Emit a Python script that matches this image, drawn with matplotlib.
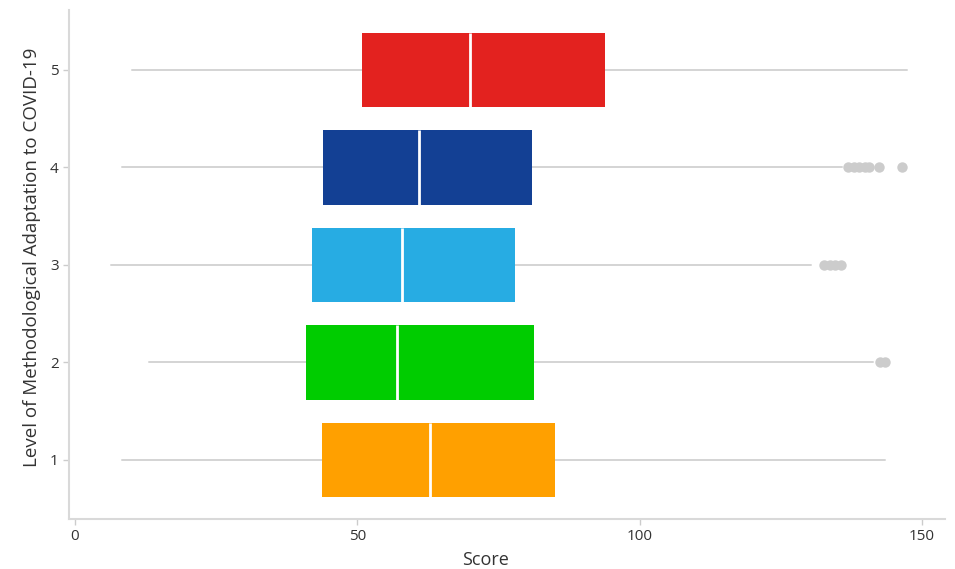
import matplotlib
matplotlib.use("Agg")
import matplotlib.pyplot as plt

categories = ["1", "2", "3", "4", "5"]
colors = ["#ffa000", "#00cc00", "#27ace3", "#134094", "#e3221f"]
q1 = [43.7, 40.9, 42.0, 43.9, 50.8]
med = [62.9, 57.0, 57.9, 60.9, 70.0]
q3 = [85.0, 81.3, 77.9, 80.9, 93.9]
whislo = [8.3, 13.1, 6.4, 8.3, 10.1]
whishi = [143.5, 141.3, 130.4, 135.8, 147.4]
outliers = [
    [],
    [142.6, 143.5],
    [132.7, 133.7, 134.7, 135.7],
    [136.9, 137.9, 138.9, 139.9, 140.6, 142.4, 146.5],
    [],
]

plt.rcParams['font.family'] = ['Open Sans', 'DejaVu Sans']

fig = plt.figure(figsize=(9.55, 5.69), dpi=100)
ax = fig.add_axes([0.0723, 0.0879, 0.9172, 0.8945])

grey = "#d4d4d4"
for i, cat in enumerate(categories):
    stats = [dict(label=cat, q1=q1[i], med=med[i], q3=q3[i],
                  whislo=whislo[i], whishi=whishi[i], fliers=outliers[i])]
    ax.bxp(stats, positions=[i + 1], vert=False, widths=0.76,
           patch_artist=True, showcaps=False,
           boxprops=dict(facecolor=colors[i], edgecolor="none", linewidth=0, zorder=3),
           medianprops=dict(color="white", linewidth=2, zorder=4),
           whiskerprops=dict(color=grey, linewidth=1.2, zorder=1),
           flierprops=dict(marker="o", markerfacecolor="#cccccc",
                           markeredgecolor="none", markersize=7.5))
    ax.hlines(i + 1, whislo[i], whishi[i], color=grey, linewidth=1.2, zorder=1)

ax.set_xlim(-1.06, 154.1)
ax.set_ylim(0.395, 5.615)
ax.set_xticks([0, 50, 100, 150])
ax.set_yticks(range(1, 6))
ax.set_yticklabels(categories)

for s in ["top", "right"]:
    ax.spines[s].set_visible(False)
for s in ["left", "bottom"]:
    ax.spines[s].set_color("#d9d9d9")
    ax.spines[s].set_linewidth(1.5)

ax.tick_params(axis="both", colors="#cccccc", labelcolor="#333333",
               labelsize=11, length=4, width=1)
ax.set_xlabel("Score", fontsize=13, color="#333333")
ax.set_ylabel("Level of Methodological Adaptation to COVID-19", fontsize=13.5,
              color="#333333")
ax.xaxis.set_label_coords(0.475, -0.062)
ax.yaxis.set_label_coords(-0.032, 0.515)

fig.savefig("out.png", dpi=100)
